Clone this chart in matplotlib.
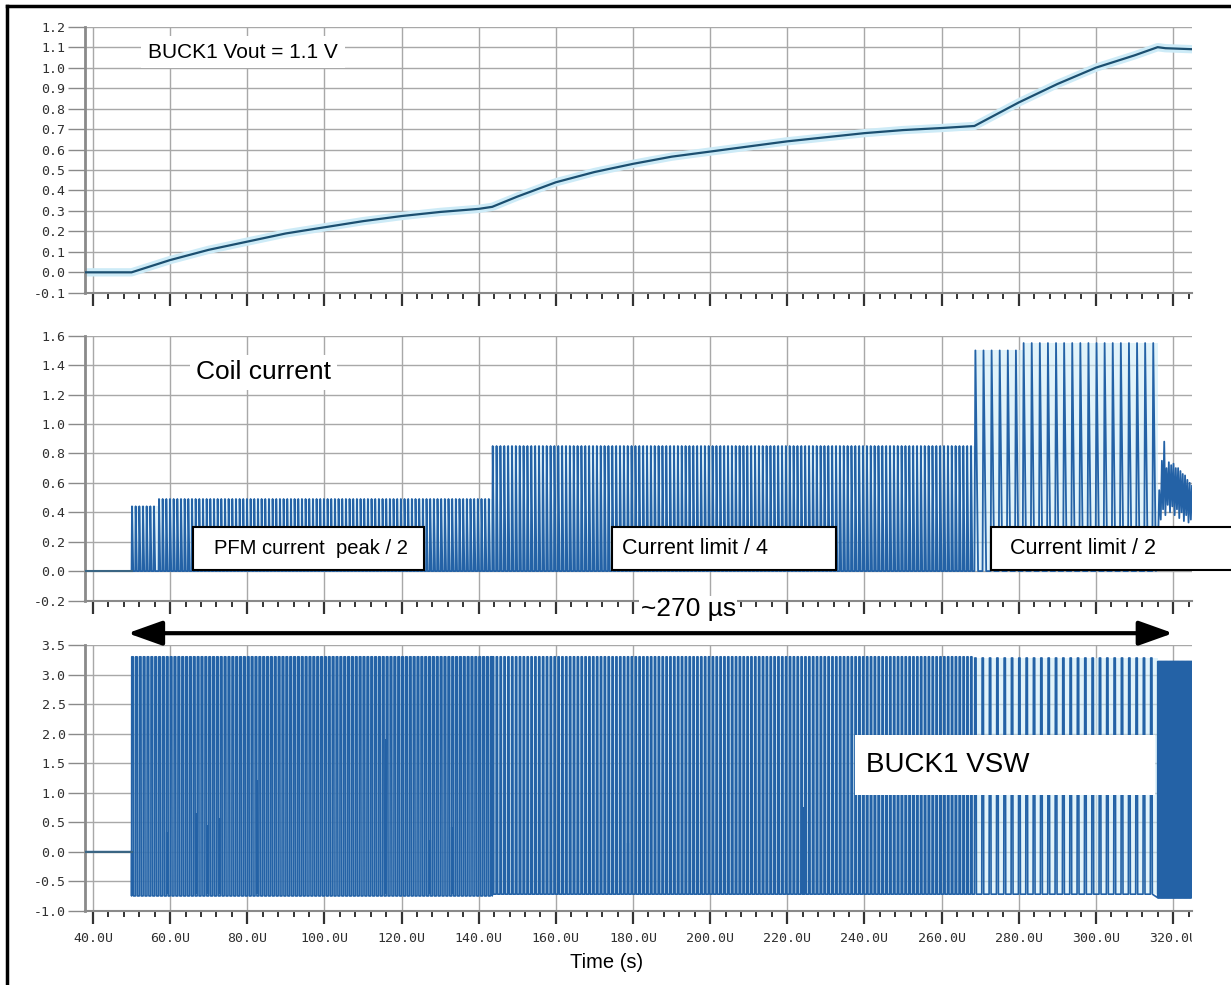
import numpy as np
import matplotlib
matplotlib.use("Agg")
import matplotlib.pyplot as plt
from matplotlib.ticker import MultipleLocator, FixedLocator
from matplotlib.patches import Rectangle, FancyArrowPatch
from matplotlib.lines import Line2D
from matplotlib.transforms import Bbox, TransformedBbox

plt.rcParams['font.family'] = ['Liberation Sans', 'DejaVu Sans']

# ---------------- data (time in µs) ----------------
x_ticks = [40, 60, 80, 100, 120, 140, 160, 180, 200, 220, 240, 260, 280, 300, 320]
x_tick_labels = ["40.0U", "60.0U", "80.0U", "100.0U", "120.0U", "140.0U", "160.0U",
                 "180.0U", "200.0U", "220.0U", "240.0U", "260.0U", "280.0U",
                 "300.0U", "320.0U"]
y1_ticks = [-0.1, 0.0, 0.1, 0.2, 0.3, 0.4, 0.5, 0.6, 0.7, 0.8, 0.9, 1.0, 1.1, 1.2]
y2_ticks = [-0.2, 0.0, 0.2, 0.4, 0.6, 0.8, 1.0, 1.2, 1.4, 1.6]
y3_ticks = [-1.0, -0.5, 0.0, 0.5, 1.0, 1.5, 2.0, 2.5, 3.0, 3.5]

# BUCK1 output voltage (V)
vout_t = [37.9, 50, 55, 60, 70, 80, 90, 100, 110, 120, 130, 140, 143.5, 150, 160, 170,
          180, 190, 200, 210, 220, 230, 240, 250, 260, 268.5, 272, 280, 290, 300,
          310, 316, 318, 325]
vout_v = [0.0, 0.0, 0.03, 0.06, 0.11, 0.15, 0.19, 0.22, 0.25, 0.275, 0.295, 0.31, 0.32,
          0.37, 0.44, 0.49, 0.53, 0.565, 0.59, 0.615, 0.64, 0.66, 0.68, 0.695, 0.705,
          0.715, 0.75, 0.83, 0.92, 1.0, 1.06, 1.10, 1.095, 1.09]

# Coil current sections: start, end, switching period (µs), peak current (A)
il_start = [50.0, 57.0, 143.5, 268.5, 281.0]
il_end = [57.0, 143.5, 268.5, 281.0, 316.0]
il_period = [0.95, 0.95, 1.0, 2.1, 2.1]
il_peak = [0.44, 0.49, 0.85, 1.50, 1.55]
# Coil current tail after the ramp
il_tail_t = [316.0, 316.4, 316.8, 317.1, 317.4, 317.7, 318.0, 318.3, 318.6, 318.9,
             319.2, 319.5, 319.8, 320.1, 320.4, 320.7, 321.0, 321.3, 321.6, 321.9,
             322.2, 322.5, 322.8, 323.1, 323.4, 323.7, 324.0, 324.3, 324.6, 324.9]
il_tail_v = [0.05, 0.55, 0.35, 0.75, 0.42, 0.88, 0.38, 0.70, 0.45, 0.74, 0.40, 0.72,
             0.44, 0.73, 0.38, 0.70, 0.42, 0.70, 0.36, 0.68, 0.40, 0.66, 0.34, 0.65,
             0.38, 0.62, 0.33, 0.60, 0.35, 0.58]

# Switch-node voltage sections: start, end, period (µs), duty, high (V), low (V)
sw_start = [50.0, 143.5, 268.5, 316.0]
sw_end = [143.5, 268.5, 316.0, 325.0]
sw_period = [1.0, 1.0, 1.9, 0.22]
sw_duty = [0.45, 0.35, 0.22, 0.5]
sw_high = [3.30, 3.30, 3.28, 3.22]
sw_low = [-0.75, -0.72, -0.72, -0.78]
# isolated partial pulses visible between the switching edges
sw_spike_t = [59.1, 66.7, 69.9, 72.9, 82.4, 116.0, 127.4, 133.0, 178.7, 224.0]
sw_spike_v = [0.34, 0.65, 0.45, 0.57, 1.21, 1.9, 0.2, 0.42, 0.14, 0.76]

# ---------------- figure ----------------
W, H = 1231, 985
fig = plt.figure(figsize=(W / 100, H / 100), dpi=100)


def fx(px):
    return px / W


def fy(py):
    return 1 - py / H


XL, XR = 37.93, 324.9
AX_L, AX_R = 85, 1192
ax1 = fig.add_axes([fx(AX_L), fy(292.8), fx(AX_R - AX_L), (292.8 - 26.7) / H])
ax2 = fig.add_axes([fx(AX_L), fy(600.5), fx(AX_R - AX_L), (600.5 - 335.7) / H])
ax3 = fig.add_axes([fx(AX_L), fy(910.7), fx(AX_R - AX_L), (910.7 - 645.0) / H])

tick_font = dict(family='DejaVu Sans Mono', size=9.5)
for ax, yt, yl in [(ax1, y1_ticks, (-0.1, 1.2)), (ax2, y2_ticks, (-0.2, 1.6)),
                   (ax3, y3_ticks, (-1.0, 3.5))]:
    ax.set_xlim(XL, XR)
    ax.set_ylim(*yl)
    ax.set_yticks(yt)
    ax.set_yticklabels(["%.1f" % v for v in yt], fontdict=tick_font, color='#303030')
    ax.xaxis.set_major_locator(FixedLocator(x_ticks))
    ax.xaxis.set_minor_locator(MultipleLocator(4))
    for s in ['top', 'right']:
        ax.spines[s].set_visible(False)
    ax.spines['left'].set_color('#8a8a8a')
    ax.spines['left'].set_linewidth(2)
    ax.spines['bottom'].set_color('#8a8a8a')
    ax.spines['bottom'].set_linewidth(1.5)
    ax.tick_params(axis='x', which='major', length=9, width=1.6, color='#333333',
                   direction='out')
    ax.tick_params(axis='x', which='minor', length=4.5, width=1.4, color='#333333',
                   direction='out')
    ax.tick_params(axis='y', length=12, width=1, color='#8a8a8a', pad=2)
    ax.grid(True, which='major', color='#a8a8a8', lw=1)
    ax.set_axisbelow(True)

for ax in (ax1, ax2):
    ax.tick_params(axis='x', labelbottom=False)
ax3.set_xticklabels(x_tick_labels, fontdict=tick_font, color='#303030')
ax3.tick_params(axis='x', which='major', pad=6)

WAVE = '#2462a6'
HALO = '#cdebf7'

# ---- top: Vout ----
ax1.plot(vout_t, vout_v, color=HALO, lw=6, zorder=2, solid_capstyle='butt')
ax1.plot(vout_t, vout_v, color='#1c4f70', lw=1.6, zorder=3)

# ---- middle: coil current ----
t_il = [XL, il_start[0]]
v_il = [0.0, 0.0]
for s, e, p, pk in zip(il_start, il_end, il_period, il_peak):
    n = int(round((e - s) / p))
    for k in range(n):
        t0 = s + k * p
        t_il += [t0, t0 + 0.12 * p, t0 + 0.45 * p]
        v_il += [0.0, pk, 0.0]
    ax2.fill_between([s, e], 0, pk, color=HALO, alpha=0.6, lw=0, zorder=1)
t_il += il_tail_t
v_il += il_tail_v
ax2.plot(t_il, v_il, color=WAVE, lw=1.3, zorder=3)
ax2.plot([XL, il_start[0]], [0, 0], color='#3a6583', lw=1.5, zorder=3)

# ---- bottom: switch node ----
t_sw = [XL, sw_start[0]]
v_sw = [0.0, 0.0]
for s, e, p, d, hi, lo in zip(sw_start, sw_end, sw_period, sw_duty, sw_high, sw_low):
    n = int(round((e - s) / p))
    for k in range(n):
        t0 = s + k * p
        t_sw += [t0, t0 + 0.05 * p, t0 + d * p, t0 + (d + 0.05) * p]
        v_sw += [lo, hi, hi, lo]
    ax3.fill_between([s, e], lo, hi, color=HALO, alpha=0.6, lw=0, zorder=1)
ax3.plot(t_sw, v_sw, color=WAVE, lw=1.2, zorder=3)
ax3.vlines(sw_spike_t, -0.72, sw_spike_v, color=WAVE, lw=1.6, zorder=3)
ax3.plot([XL, sw_start[0]], [0, 0], color='#3a6583', lw=1.5, zorder=3)

# ---------------- annotations ----------------
ax1.text(54.3, 1.076, "BUCK1 Vout = 1.1 V", fontsize=15, va='center', ha='left',
         zorder=6, bbox=dict(facecolor='white', edgecolor='none', pad=5))
ax2.text(66.7, 1.35, "Coil current", fontsize=19, va='center', ha='left', zorder=6,
         bbox=dict(facecolor='white', edgecolor='none', pad=4))

boxes = [(65.9, 125.8, 71.4, "PFM current  peak / 2", 14.5),
         (174.6, 232.6, 177.2, "Current limit / 4", 15.5),
         (272.7, 364.0, 277.7, "Current limit / 2", 15.5)]
for x0, x1, xt, label, fs in boxes:
    ax2.add_patch(Rectangle((x0, 0.005), x1 - x0, 0.292, facecolor='white',
                            edgecolor='black', lw=1.5, zorder=7, clip_on=False))
    ax2.text(xt, 0.152, label, fontsize=fs, va='center', ha='left', zorder=8,
             clip_on=False)

ax3.add_patch(Rectangle((237.6, 0.96), 77.7, 1.02, facecolor='white',
                        edgecolor='none', zorder=7))
ax3.text(240.4, 1.47, "BUCK1 VSW", fontsize=20, va='center', ha='left', zorder=8)

arrow = FancyArrowPatch((49.0, 3.70), (320.0, 3.70),
                        arrowstyle='<|-|>,head_length=1.4,head_width=0.5',
                        mutation_scale=15, lw=3, color='black', shrinkA=0, shrinkB=0,
                        clip_on=False, zorder=9)
ax3.add_patch(arrow)
ax3.text(194.3, 4.11, "~270 µs", fontsize=19, va='center', ha='center',
         clip_on=False, zorder=9,
         bbox=dict(facecolor='white', edgecolor='none', pad=1))

fig.text(fx(607), fy(962), "Time (s)", fontsize=14.5, ha='center', va='center')

# cut x tick labels at the plot's right edge, as in the reference
clip = TransformedBbox(Bbox([[0, 0], [fx(AX_R), 1]]), fig.transFigure)
for lbl in ax3.get_xticklabels():
    lbl.set_clip_box(clip)
    lbl.set_clip_on(True)

# page frame (left and top edges)
fig.add_artist(Line2D([fx(7), fx(7)], [0, fy(5.5)], transform=fig.transFigure,
                      color='black', lw=2.5))
fig.add_artist(Line2D([fx(7), 1], [fy(5.5), fy(5.5)], transform=fig.transFigure,
                      color='black', lw=2.5))

fig.savefig("out.png", dpi=100)
